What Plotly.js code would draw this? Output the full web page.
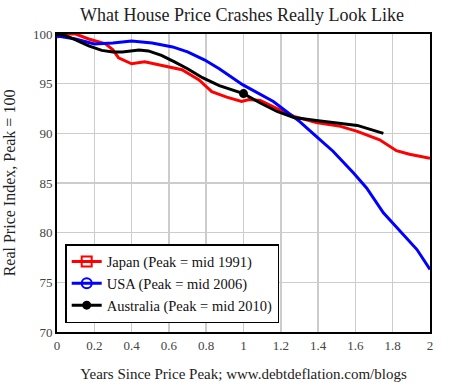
<!DOCTYPE html>
<html><head><meta charset="utf-8">
<script src="https://cdn.plot.ly/plotly-3.0.1.min.js"></script>
<style>html,body{margin:0;padding:0;background:#fff}#chart{width:470px;height:389px}</style>
</head><body><div id="chart"></div>
<script>
const japanX = [0, 0.05, 0.1, 0.17, 0.26, 0.30, 0.33, 0.40, 0.47, 0.58, 0.67, 0.76, 0.83, 0.91, 0.99, 1.03, 1.09, 1.18, 1.27, 1.39, 1.52, 1.61, 1.73, 1.82, 1.89, 2.0];
const japanY = [99.7, 100, 100, 99.5, 99.0, 98.4, 97.6, 97.0, 97.2, 96.8, 96.4, 95.4, 94.2, 93.65, 93.2, 93.4, 93.3, 92.5, 91.7, 91.1, 90.7, 90.2, 89.35, 88.25, 87.9, 87.5];
const usaX = [0, 0.1, 0.2, 0.3, 0.4, 0.51, 0.62, 0.70, 0.79, 0.87, 0.995, 1.09, 1.16, 1.23, 1.30, 1.39, 1.48, 1.59, 1.66, 1.75, 1.84, 1.93, 2.0];
const usaY = [99.8, 99.5, 99.0, 99.1, 99.3, 99.1, 98.7, 98.2, 97.4, 96.5, 94.9, 93.9, 93.2, 92.2, 91.2, 89.7, 88.2, 86.0, 84.5, 82.0, 80.1, 78.3, 76.3];
const ausX = [0, 0.05, 0.1, 0.17, 0.24, 0.30, 0.35, 0.44, 0.49, 0.56, 0.63, 0.70, 0.78, 0.87, 1.0, 1.09, 1.18, 1.27, 1.39, 1.52, 1.61, 1.75];
const ausY = [100, 99.8, 99.4, 98.8, 98.35, 98.2, 98.2, 98.4, 98.3, 97.85, 97.2, 96.5, 95.6, 94.8, 94.0, 93.05, 92.2, 91.6, 91.3, 91.0, 90.8, 90.0];
const seriesNames = ['Japan (Peak = mid 1991)', 'USA (Peak = mid 2006)', 'Australia (Peak = mid 2010)'];
const xTicks = [0, 0.2, 0.4, 0.6, 0.8, 1, 1.2, 1.4, 1.6, 1.8, 2];
const yTicks = [70, 75, 80, 85, 90, 95, 100];

const serif = 'Liberation Serif';
const ausMarkIdx = ausX.map((v, i) => i).filter(i => ausX[i] === 1);

const traces = [
  {x: japanX, y: japanY, mode: 'lines', showlegend: false, line: {color: '#ff0000', width: 3}},
  {x: usaX, y: usaY, mode: 'lines', showlegend: false, line: {color: '#0000ff', width: 3}},
  {x: ausX, y: ausY, mode: 'lines', showlegend: false, line: {color: '#000000', width: 3}},
  {x: ausMarkIdx.map(i => ausX[i]), y: ausMarkIdx.map(i => ausY[i]), mode: 'markers', showlegend: false,
   marker: {symbol: 'circle', size: 9, color: '#000000'}},
  // legend entries
  {x: [null], y: [null], name: seriesNames[0], mode: 'lines+markers', line: {color: '#ff0000', width: 3},
   marker: {symbol: 'square-open', size: 10, color: '#ff0000', line: {width: 2, color: '#ff0000'}}},
  {x: [null], y: [null], name: seriesNames[1], mode: 'lines+markers', line: {color: '#0000ff', width: 3},
   marker: {symbol: 'circle-open', size: 10, color: '#0000ff', line: {width: 2, color: '#0000ff'}}},
  {x: [null], y: [null], name: seriesNames[2], mode: 'lines+markers', line: {color: '#000000', width: 3},
   marker: {symbol: 'circle', size: 9, color: '#000000'}}
];

const layout = {
  width: 470, height: 389,
  margin: {l: 57, r: 40, t: 34, b: 57},
  paper_bgcolor: '#fff', plot_bgcolor: '#fff',
  font: {family: serif, color: '#333', size: 12},
  title: {text: 'What House Price Crashes Really Look Like', font: {family: serif, size: 18, color: '#222'}, x: 0.515, xanchor: 'center', y: 0.962, yanchor: 'middle'},
  xaxis: {range: [0, 2], tickvals: xTicks, ticktext: xTicks.map(String), showgrid: true, gridcolor: '#cccccc', gridwidth: 1.5,
    showline: true, linecolor: '#000', linewidth: 2, mirror: true, zeroline: false, ticks: '',
    tickfont: {family: serif, size: 13, color: '#444'},
    title: {text: 'Years Since Price Peak; www.debtdeflation.com/blogs', font: {family: serif, size: 15, color: '#222'}, standoff: 17}},
  yaxis: {range: [70, 100], tickvals: yTicks, showgrid: true, gridcolor: '#cccccc', gridwidth: 1.5,
    showline: true, linecolor: '#000', linewidth: 2, mirror: true, zeroline: false, ticks: '',
    tickfont: {family: serif, size: 13, color: '#444'},
    title: {text: 'Real Price Index, Peak = 100', font: {family: serif, size: 16, color: '#222'}, standoff: 13}},
  showlegend: true,
  legend: {x: 0.022, y: 0.03, xanchor: 'left', yanchor: 'bottom', bgcolor: '#fff', bordercolor: '#000', borderwidth: 1.5,
    font: {family: serif, size: 14.5, color: '#111'}, itemwidth: 30, tracegroupgap: 0}
};

Plotly.newPlot('chart', traces, layout, {staticPlot: true, displayModeBar: false});
</script></body></html>
